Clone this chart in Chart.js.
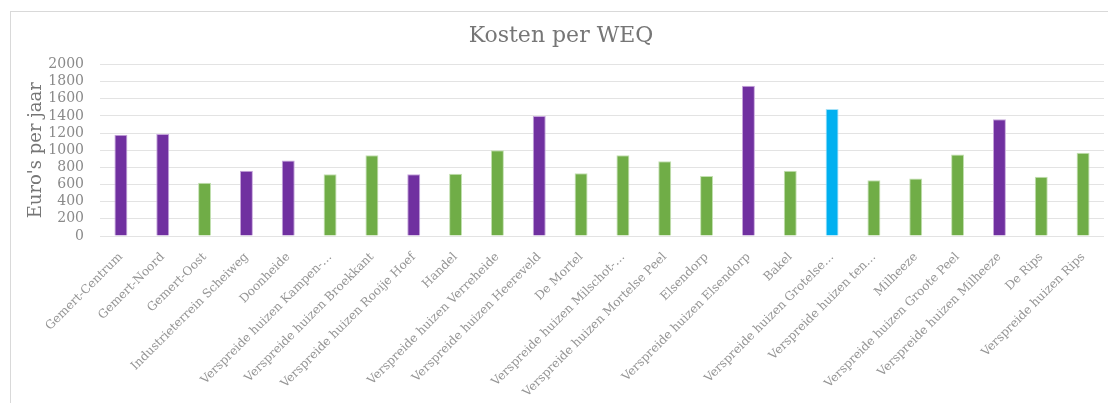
<!DOCTYPE html>
<html lang="nl">
<head>
<meta charset="utf-8">
<title>Kosten per WEQ</title>
<script src="https://cdn.jsdelivr.net/npm/chart.js@4/dist/chart.umd.min.js"></script>
<style>
  html, body { margin: 0; padding: 0; background: #fff; overflow: hidden; }
  #wrap { position: relative; width: 1108px; height: 403px; }
  #kader { position: absolute; left: 10px; top: 11px; width: 1200px; height: 500px;
           border: 1px solid #d9d9d9; box-sizing: border-box; }
  #grafiek { position: absolute; left: 0; top: 0; }
</style>
</head>
<body>
<div id="wrap">
  <div id="kader"></div>
  <canvas id="grafiek" width="1108" height="403"></canvas>
</div>
<script>
// Gebieden en kosten per WEQ (euro per jaar)
const gebieden = [
    "Gemert-Centrum", "Gemert-Noord", "Gemert-Oost", "Industrieterrein Scheiweg",
    "Doonheide", "Verspreide huizen Kampen-…", "Verspreide huizen Broekkant",
    "Verspreide huizen Rooije Hoef", "Handel", "Verspreide huizen Verreheide",
    "Verspreide huizen Heereveld", "De Mortel", "Verspreide huizen Milschot-…",
    "Verspreide huizen Mortelse Peel", "Elsendorp", "Verspreide huizen Elsendorp",
    "Bakel", "Verspreide huizen Grotelse…", "Verspreide huizen ten…", "Milheeze",
    "Verspreide huizen Groote Peel", "Verspreide huizen Milheeze", "De Rips",
    "Verspreide huizen Rips"
];
const kosten = [
    1180, 1190, 620, 760, 880, 720, 940, 720, 725, 1000, 1400, 730,
    940, 870, 700, 1750, 760, 1480, 650, 670, 950, 1360, 690, 970
];
// soort gebied per staaf
const soort = [
    "kern", "kern", "buiten", "kern", "kern", "buiten", "buiten", "kern",
    "buiten", "buiten", "kern", "buiten", "buiten", "buiten", "buiten", "kern",
    "buiten", "accent", "buiten", "buiten", "buiten", "kern", "buiten", "buiten"
];
const yMax = 2000;
const yStap = 200;

const vulling = { kern: "#7030a0", buiten: "#70ad47", accent: "#00b0f0" };
const rand = { kern: "#c6a6dc", buiten: "#c3e0b1", accent: "#a6e2f8" };

const lettertype = "'DejaVu Serif', serif";

new Chart(document.getElementById("grafiek"), {
    type: "bar",
    data: {
        labels: gebieden,
        datasets: [{
            label: "Kosten per WEQ",
            data: kosten,
            backgroundColor: soort.map(s => vulling[s]),
            borderColor: soort.map(s => rand[s]),
            borderWidth: 1,
            barPercentage: 0.31,
            categoryPercentage: 1
        }]
    },
    options: {
        responsive: false,
        animation: false,
        layout: { padding: { left: 18, right: 4, top: 0, bottom: 0 } },
        plugins: {
            legend: { display: false },
            tooltip: { enabled: false },
            title: {
                display: true,
                text: "Kosten per WEQ",
                color: "#767676",
                font: { family: lettertype, size: 22, weight: "normal" },
                padding: { top: 23, bottom: 15 }
            }
        },
        scales: {
            x: {
                grid: { display: false },
                border: { display: false },
                ticks: {
                    autoSkip: false,
                    maxRotation: 45,
                    minRotation: 45,
                    padding: 6,
                    color: "#959595",
                    font: { family: lettertype, size: 12 }
                },
                afterFit: s => { s.height = 167; }
            },
            y: {
                min: 0,
                max: yMax,
                grid: { color: "#e3e3e3", lineWidth: 1, drawTicks: false },
                border: { display: false },
                ticks: {
                    stepSize: yStap,
                    autoSkip: false,
                    padding: 16,
                    color: "#8a8a8a",
                    font: { family: lettertype, size: 14, lineHeight: 1 },
                    callback: v => String(v)
                },
                title: {
                    display: true,
                    text: "Euro's per jaar",
                    color: "#767676",
                    font: { family: lettertype, size: 18, weight: "normal" },
                    padding: { top: 8, bottom: 0 }
                },
                afterFit: s => { s.width = 82; }
            }
        }
    }
});
</script>
</body>
</html>
